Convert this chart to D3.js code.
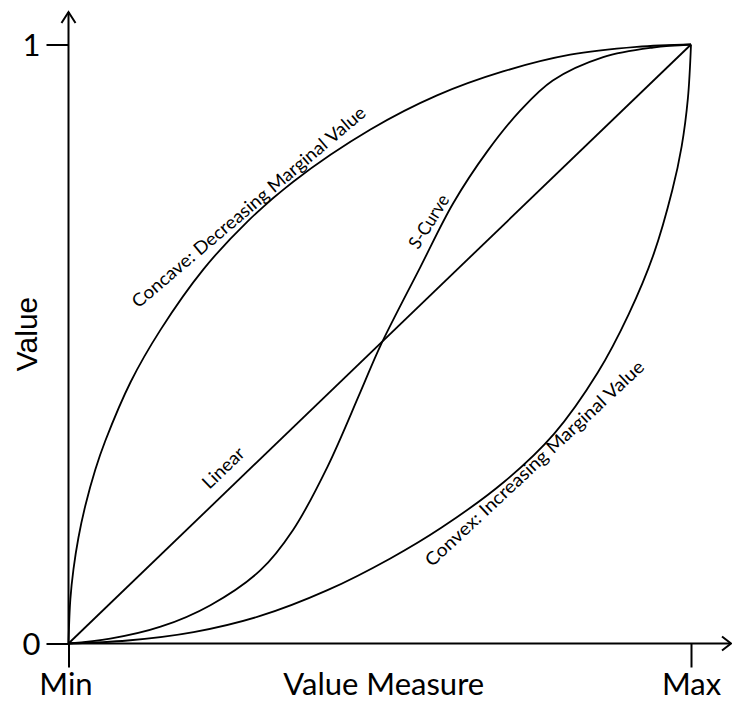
<!DOCTYPE html>
<html>
<head>
<meta charset="utf-8">
<script src="https://cdn.jsdelivr.net/npm/d3@7"></script>
<style>
  body { margin: 0; background: #ffffff; }
  svg { display: block; }
</style>
</head>
<body>
<svg id="chart" width="732" height="702"></svg>
<script>
// ---------------- DATA ----------------
const curveNames = ["Concave", "Linear", "S-Curve", "Convex"];
const curveLabels = [
  "Concave: Decreasing Marginal Value",
  "Linear",
  "S-Curve",
  "Convex: Increasing Marginal Value"
];

// measure (0 = Min, 1 = Max) and value (0..1)
const concaveMeasure = [0, 0.003, 0.008, 0.016, 0.027, 0.043, 0.059, 0.100, 0.148, 0.217, 0.287, 0.361, 0.485, 0.592, 0.698, 0.806, 0.913, 1];
const concaveValue   = [0, 0.074, 0.124, 0.177, 0.230, 0.290, 0.338, 0.437, 0.524, 0.625, 0.704, 0.771, 0.858, 0.915, 0.955, 0.983, 0.996, 1];

const linearMeasure = [0, 1];
const linearValue   = [0, 1];

const sCurveMeasure = [0, 0.067, 0.148, 0.228, 0.308, 0.361, 0.416, 0.469, 0.501, 0.565, 0.618, 0.673, 0.726, 0.778, 0.859, 0.939, 1];
const sCurveValue   = [0, 0.008, 0.028, 0.064, 0.122, 0.190, 0.295, 0.420, 0.497, 0.628, 0.735, 0.822, 0.890, 0.940, 0.979, 0.995, 1];

const convexMeasure = [0, 0.095, 0.201, 0.308, 0.416, 0.517, 0.600, 0.700, 0.780, 0.850, 0.900, 0.940, 0.970, 0.985, 0.995, 1];
const convexValue   = [0, 0.005, 0.019, 0.046, 0.089, 0.142, 0.194, 0.270, 0.350, 0.452, 0.550, 0.650, 0.757, 0.830, 0.910, 1];

const xTickValues = [0, 1];
const xTickLabels = ["Min", "Max"];
const yTickValues = [0, 1];
const yTickLabels = ["0", "1"];
const xTitle = "Value Measure";
const yTitle = "Value";

// ---------------- LAYOUT ----------------
const x = d3.scaleLinear().domain([0, 1]).range([68.5, 691]);
const y = d3.scaleLinear().domain([0, 1]).range([643.5, 44.5]);

const labelFont = "Lato, 'Open Sans', sans-serif";
const svg = d3.select("#chart");

// ---------------- AXES ----------------
const xAxis = d3.axisBottom(x)
  .tickValues(xTickValues)
  .tickFormat((d, i) => xTickLabels[i])
  .tickSize(24)
  .tickPadding(0);
const gx = svg.append("g").attr("transform", `translate(0,${y(0)})`).call(xAxis);
gx.select(".domain").remove();
gx.selectAll(".tick line").attr("stroke", "#000").attr("stroke-width", 2);
gx.selectAll(".tick text")
  .attr("y", 51.5).attr("dy", null)
  .attr("x", (d, i) => (i === 0 ? -3 : 0))
  .attr("fill", "#000")
  .style("font-family", labelFont).style("font-size", "31px");

const yAxis = d3.axisLeft(y)
  .tickValues(yTickValues)
  .tickFormat((d, i) => yTickLabels[i])
  .tickSize(22)
  .tickPadding(6);
const gy = svg.append("g").attr("transform", `translate(${x(0)},0)`).call(yAxis);
gy.select(".domain").remove();
gy.selectAll(".tick line").attr("stroke", "#000").attr("stroke-width", 2);
gy.selectAll(".tick text")
  .attr("dy", "0.36em")
  .attr("fill", "#000")
  .style("font-family", labelFont).style("font-size", "31px");

// axis lines with open arrowheads
const axisG = svg.append("g").attr("fill", "none").attr("stroke", "#000").attr("stroke-width", 2);
axisG.append("line").attr("x1", x(0)).attr("y1", y(0)).attr("x2", x(0)).attr("y2", 12);
axisG.append("polyline").attr("points", `${x(0) - 7},23 ${x(0)},12 ${x(0) + 7},23`);
axisG.append("line").attr("x1", x(0)).attr("y1", y(0)).attr("x2", 731).attr("y2", y(0));
axisG.append("polyline").attr("points", `722,${y(0) - 7} 731,${y(0)} 722,${y(0) + 7}`);

// titles
svg.append("text")
  .attr("x", (x(0) + x(1)) / 2 + 4).attr("y", 695)
  .attr("text-anchor", "middle").attr("fill", "#000")
  .style("font-family", labelFont).style("font-size", "31px")
  .text(xTitle);

svg.append("text")
  .attr("transform", `translate(37,334) rotate(-90)`)
  .attr("text-anchor", "middle").attr("fill", "#000")
  .style("font-family", "'Liberation Sans', Arial, sans-serif").style("font-size", "30px")
  .text(yTitle);

// ---------------- CURVES ----------------
const seriesMeasure = [concaveMeasure, linearMeasure, sCurveMeasure, convexMeasure];
const seriesValue = [concaveValue, linearValue, sCurveValue, convexValue];
const series = seriesMeasure.map((m, i) => d3.zip(m, seriesValue[i]));

const line = d3.line()
  .x(d => x(d[0]))
  .y(d => y(d[1]))
  .curve(d3.curveCatmullRom.alpha(0.5));

svg.append("g").selectAll("path")
  .data(series)
  .join("path")
  .attr("d", line)
  .attr("fill", "none")
  .attr("stroke", "#000")
  .attr("stroke-width", 1.8)
  .attr("stroke-linejoin", "round");

// ---------------- CURVE LABELS ----------------
// each label sits along its curve: measure where it touches, rotation,
// perpendicular offset (px, + = below) and text length
const labelLayout = [
  { m: 0.300, angle: -40.3, off: -4,  len: 300 },
  { m: 0.270, angle: -44,   off: -13, len: 51 },
  { m: 0.597, angle: -58,   off: -7,  len: 60 },
  { m: 0.740, angle: -43,   off: 14,  len: 292 }
];
const interp = series.map((s, i) => d3.scaleLinear().domain(seriesMeasure[i]).range(seriesValue[i]));

svg.append("g").selectAll("text")
  .data(curveLabels)
  .join("text")
  .attr("transform", (d, i) => {
    const L = labelLayout[i];
    const px = x(L.m), py = y(interp[i](L.m));
    const a = L.angle * Math.PI / 180;
    const nx = -Math.sin(a), ny = Math.cos(a);
    return `translate(${px + L.off * nx},${py + L.off * ny}) rotate(${L.angle})`;
  })
  .attr("text-anchor", "middle")
  .attr("textLength", (d, i) => labelLayout[i].len)
  .attr("lengthAdjust", "spacingAndGlyphs")
  .attr("fill", "#000")
  .style("font-family", labelFont)
  .style("font-size", "18px")
  .text(d => d);
</script>
</body>
</html>
